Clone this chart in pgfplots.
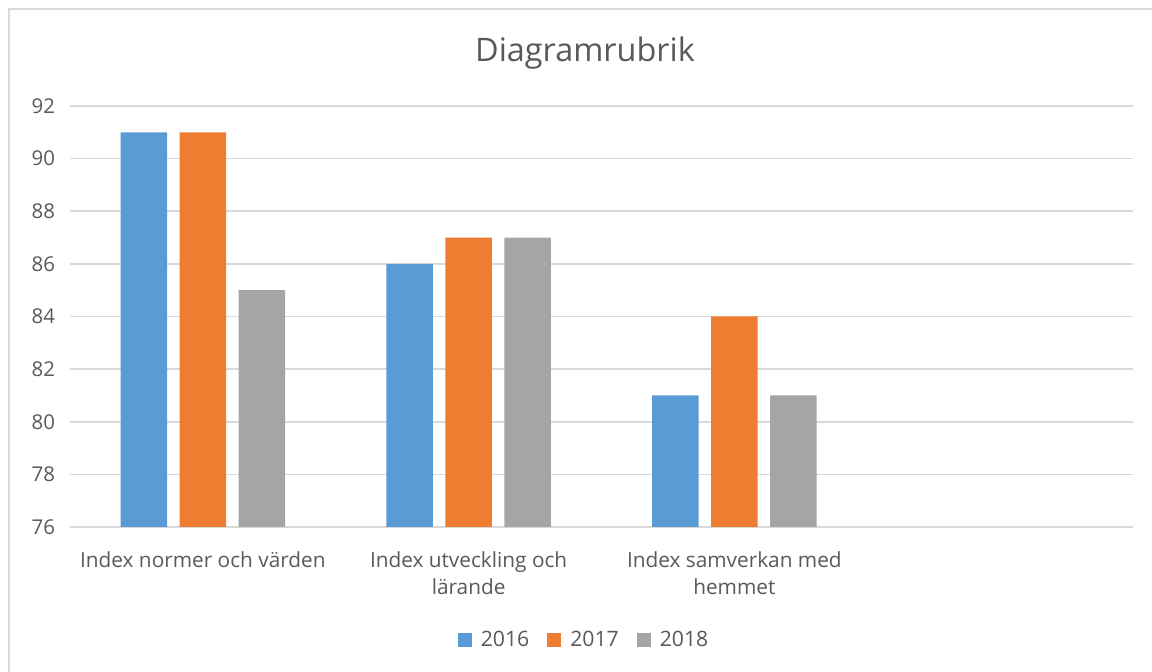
\documentclass[border=0pt]{standalone}
\usepackage{pgfplots}
\pgfplotsset{compat=1.18}
\usepackage{fontspec}
\setmainfont{Open Sans}
\definecolor{cblue}{HTML}{5B9BD5}
\definecolor{corange}{HTML}{ED7D31}
\definecolor{cgray}{HTML}{A5A5A5}
\definecolor{gridc}{HTML}{D9D9D9}
\definecolor{txt}{HTML}{595959}
\begin{document}
\begin{tikzpicture}[x=0.5pt,y=0.5pt]
\useasboundingbox (0,0) rectangle (1152,672);
\draw[gridc, line width=1pt] (9,0) -- (9,663) -- (1152,663);
\node[txt, font=\fontsize{16.2}{18}\selectfont] at (585,619) {Diagramrubrik};
\begin{axis}[
  at={(35pt,72.5pt)}, anchor=south west,
  scale only axis, width=531.5pt, height=210.5pt,
  xmin=-0.5, xmax=3.5, ymin=76, ymax=92,
  ytick={76,78,...,92},
  xtick={0,1,2},
  xticklabels={{Index normer och värden},{Index utveckling och\\lärande},{Index samverkan med\\hemmet}},
  xticklabel style={align=center, txt, font=\fontsize{10.4}{13.5}\selectfont, yshift=-9pt},
  yticklabel style={txt, font=\fontsize{10.2}{12}\selectfont, xshift=-4pt},
  /pgf/number format/assume math mode=true,
  major tick length=0pt,
  axis line style={draw=none},
  ymajorgrids, grid style={gridc, line width=0.8pt},
  bar width=0.175,
  ybar, 
  area legend,
  legend columns=3,
  legend style={at={(0.4845,-0.268)}, anchor=center, draw=none, font=\fontsize{10.6}{12}\selectfont, text=txt,
    /tikz/every even column/.append style={column sep=7pt},
    /tikz/every odd column/.append style={column sep=2.5pt}},
  legend image code/.code={\fill[#1] (0pt,-3.5pt) rectangle (7pt,3.5pt);},
]
\addplot[fill=cblue, draw=none, bar shift=-0.222] coordinates {(0,91) (1,86) (2,81)};
\addplot[fill=corange, draw=none, bar shift=0] coordinates {(0,91) (1,87) (2,84)};
\addplot[fill=cgray, draw=none, bar shift=0.222] coordinates {(0,85) (1,87) (2,81)};
\legend{2016,2017,2018}
\end{axis}
\end{tikzpicture}
\end{document}
